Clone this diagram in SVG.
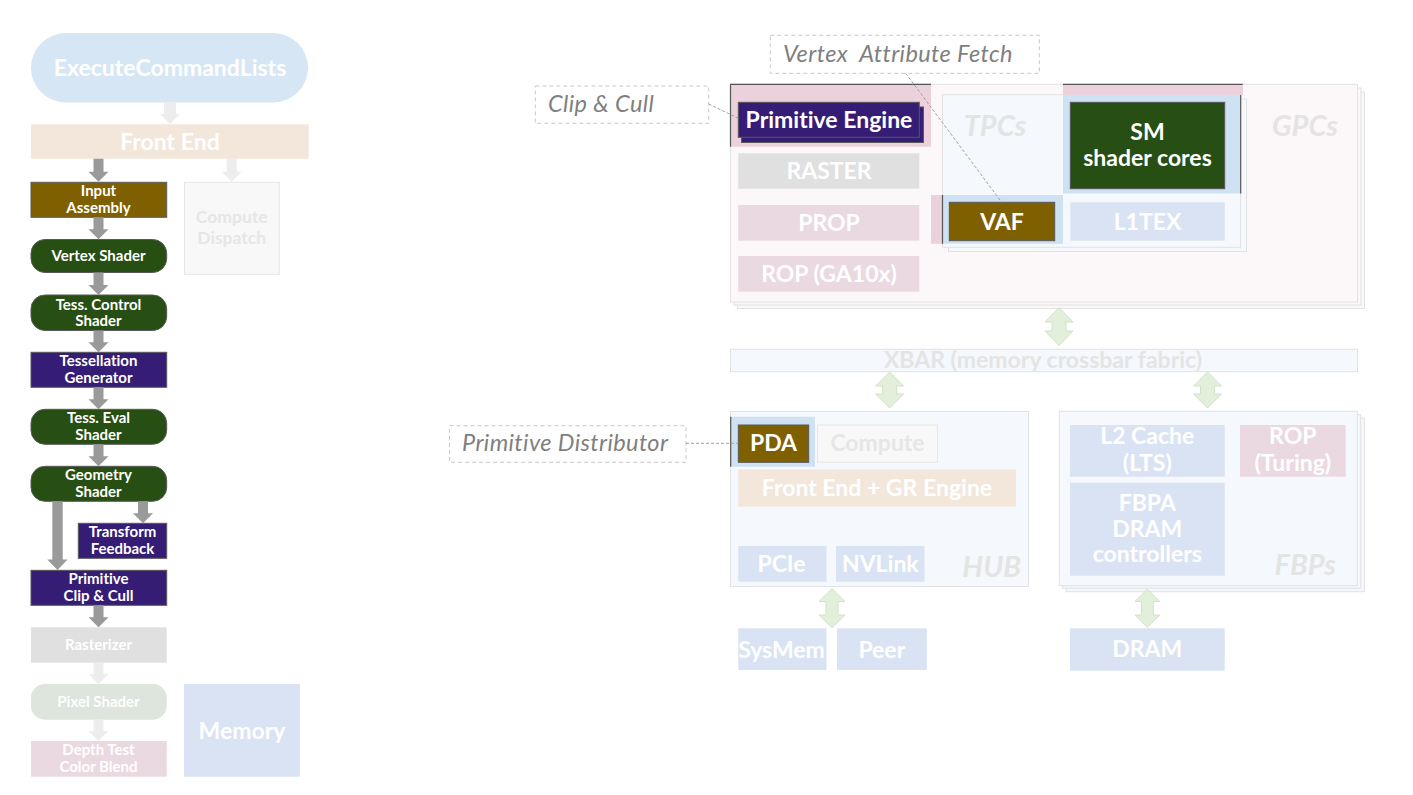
<svg xmlns="http://www.w3.org/2000/svg" width="1413" height="795" viewBox="0 0 1413 795">
<style>
text{font-family:Lato,"Open Sans","Liberation Sans",sans-serif;font-weight:bold;text-anchor:middle;fill:#fff;font-variant-ligatures:none}
.s14{font-size:15px}
.s22{font-size:23px}
.dk{stroke:#595959;stroke-width:1}
.green{fill:#274e13}
.purple{fill:#351c75}
.brown{fill:#7f6000}
.lblue{fill:#dae3f3}
.lpink{fill:#ead9e0}
.lgray{fill:#e0e0e0}
.peach{fill:#f3e6da}
.ghost{fill:#f8f8f8;stroke:#e6e6e6}
.ghosttxt{fill:#e6e6e6}
.big{font-size:29px;font-style:italic;fill:#e4e4e4}
.gpc{fill:#fcf7f8;stroke:#e2e2e2}
.pale{fill:#f5f8fc;stroke:#e2e2e2}
.hlpink{fill:#ead1dc}
.hlblue{fill:#cfe2f3}
.edge{fill:none;stroke:#555;stroke-width:1.2}
.callout{fill:#fff;stroke:#c8c8c8;stroke-dasharray:4 3}
.ctxt{font-size:23.5px;font-style:italic;font-weight:normal;fill:#7f7f7f;text-anchor:start;letter-spacing:0.4px}
.arrG{fill:#9a9a9a}
.arrL{fill:#ededed}
.arrD{fill:#e2efda;stroke:#d3e2c8}
.lead{fill:none;stroke:#a0a0a0;stroke-dasharray:3 2}
</style>

<!-- ===== Left pipeline ===== -->
<g id="execute-command-lists">
<rect x="31" y="33" width="277" height="69.5" rx="34.75" fill="#d6e6f4"/>
<text x="170" y="75.5" class="s22">ExecuteCommandLists</text>
</g>
<g id="front-end">
<rect x="31" y="124.3" width="277.7" height="34.4" class="peach"/>
<text x="170" y="149.5" class="s22">Front End</text>
</g>
<g id="input-assembly">
<rect x="31" y="182.3" width="135.7" height="35" class="brown dk"/>
<text x="98.5" y="196" class="s14">Input</text>
<text x="98.5" y="212.7" class="s14">Assembly</text>
</g>
<g id="compute-dispatch">
<rect x="184.5" y="182.3" width="94.8" height="92" class="ghost"/>
<text x="231.7" y="223.3" style="font-size:17.5px" class="ghosttxt">Compute</text>
<text x="231.7" y="244" style="font-size:17.5px" class="ghosttxt">Dispatch</text>
</g>
<g id="vertex-shader">
<rect x="31" y="239.5" width="135.7" height="33" rx="14" class="green dk"/>
<text x="98.5" y="261" class="s14">Vertex Shader</text>
</g>
<g id="tess-control-shader">
<rect x="31" y="295" width="135.7" height="35.5" rx="14" class="green dk"/>
<text x="98.5" y="309.5" class="s14">Tess. Control</text>
<text x="98.5" y="326" class="s14">Shader</text>
</g>
<g id="tessellation-generator">
<rect x="31" y="352.3" width="135.7" height="35" class="purple dk"/>
<text x="98.5" y="366.3" class="s14">Tessellation</text>
<text x="98.5" y="382.8" class="s14">Generator</text>
</g>
<g id="tess-eval-shader">
<rect x="31" y="409.3" width="135.7" height="35" rx="14" class="green dk"/>
<text x="98.5" y="423" class="s14">Tess. Eval</text>
<text x="98.5" y="439.5" class="s14">Shader</text>
</g>
<g id="geometry-shader">
<rect x="31" y="466.3" width="135.7" height="35" rx="14" class="green dk"/>
<text x="98.5" y="480" class="s14">Geometry</text>
<text x="98.5" y="496.7" class="s14">Shader</text>
</g>
<g id="transform-feedback">
<rect x="78.3" y="523.3" width="88.4" height="35" class="purple dk"/>
<text x="122.5" y="537.3" class="s14">Transform</text>
<text x="122.5" y="553.5" class="s14">Feedback</text>
</g>
<g id="primitive-clip-cull">
<rect x="31" y="570.3" width="135.7" height="35" class="purple dk"/>
<text x="98.5" y="584.2" class="s14">Primitive</text>
<text x="98.5" y="600.8" class="s14">Clip &amp; Cull</text>
</g>
<g id="rasterizer">
<rect x="31" y="627.3" width="135.7" height="35.4" class="lgray"/>
<text x="98.5" y="650.2" class="s14">Rasterizer</text>
</g>
<g id="pixel-shader">
<rect x="31" y="684" width="135.7" height="35.7" rx="14" fill="#dde5dc"/>
<text x="98.5" y="706.8" class="s14">Pixel Shader</text>
</g>
<g id="depth-test-color-blend">
<rect x="31" y="741" width="135.7" height="35.7" class="lpink"/>
<text x="98.5" y="755.2" class="s14">Depth Test</text>
<text x="98.5" y="771.8" class="s14">Color Blend</text>
</g>
<g id="memory">
<rect x="184" y="684" width="116" height="92.7" class="lblue"/>
<text x="242" y="738.5" class="s22">Memory</text>
</g>

<!-- ===== Right: GPCs ===== -->
<g id="gpcs">
<rect x="737.5" y="92" width="627" height="216.5" class="gpc"/>
<rect x="734" y="88" width="627" height="217" class="gpc"/>
<rect x="730.5" y="84.3" width="627" height="217.7" class="gpc"/>
<rect x="730.5" y="84.3" width="200.5" height="62.5" class="hlpink"/>
<polyline points="730.5,146.8 730.5,84.3 931,84.3" class="edge"/>
<text x="1305" y="136" class="big">GPCs</text>
</g>
<g id="tpcs">
<rect x="948.5" y="99" width="298" height="152.5" class="pale"/>
<rect x="942.5" y="94.7" width="298" height="152.6" class="pale"/>
<rect x="1063" y="84.3" width="180" height="10.6" class="hlpink"/>
<rect x="1063" y="94.9" width="178" height="98.6" class="hlblue"/>
<polyline points="1063,84.3 1242.7,84.3" class="edge"/>
<polyline points="1240.7,94.9 1240.7,193.5" class="edge"/>
<rect x="931" y="195" width="11.5" height="48.8" class="hlpink"/>
<rect x="942.5" y="195" width="120.5" height="48.8" class="hlblue"/>
<polyline points="942.5,195 942.5,243.8" class="edge"/>
<text x="995" y="136" class="big">TPCs</text>
</g>
<g id="primitive-engine">
<rect x="741.5" y="107" width="182" height="35.5" class="purple dk"/>
<rect x="738.3" y="102.3" width="181" height="35" class="purple dk"/>
<text x="829" y="127.5" class="s22">Primitive Engine</text>
</g>
<g id="raster">
<rect x="738.3" y="153.3" width="181" height="35.4" class="lgray"/>
<text x="829" y="179" class="s22">RASTER</text>
</g>
<g id="prop">
<rect x="738.3" y="205" width="181" height="35.7" class="lpink"/>
<text x="829" y="230.5" class="s22">PROP</text>
</g>
<g id="rop-ga10x">
<rect x="738.3" y="256" width="181" height="35.7" class="lpink"/>
<text x="829" y="281.5" class="s22">ROP (GA10x)</text>
</g>
<g id="sm">
<rect x="1070.3" y="102.3" width="154.4" height="86.4" class="green dk"/>
<text x="1147.5" y="140" class="s22">SM</text>
<text x="1147.5" y="166" class="s22">shader cores</text>
</g>
<g id="vaf">
<rect x="949.3" y="202.3" width="105.4" height="38.4" class="brown dk"/>
<text x="1002" y="229.5" class="s22">VAF</text>
</g>
<g id="l1tex">
<rect x="1070.3" y="202.3" width="154.4" height="38.4" class="lblue"/>
<text x="1147.5" y="229.5" class="s22">L1TEX</text>
</g>

<!-- ===== XBAR ===== -->
<g id="xbar">
<rect x="730.5" y="349.3" width="627" height="22.4" class="pale"/>
<text x="1043" y="367.5" class="s22" style="fill:#e4e4e4">XBAR (memory crossbar fabric)</text>
</g>

<!-- ===== HUB ===== -->
<g id="hub">
<rect x="730.5" y="411.5" width="298" height="175" class="pale"/>
<rect x="730.5" y="416.8" width="84.5" height="50" class="hlblue"/>
<polyline points="730.7,416.8 730.7,466.8" class="edge"/>
<text x="1021" y="577" class="big" style="text-anchor:end">HUB</text>
</g>
<g id="pda">
<rect x="738.3" y="425" width="70.4" height="37.3" class="brown dk"/>
<text x="773.5" y="451" class="s22">PDA</text>
</g>
<g id="compute">
<rect x="817.5" y="425" width="120" height="37.3" class="ghost"/>
<text x="877.5" y="451" class="s22 ghosttxt">Compute</text>
</g>
<g id="front-end-gr-engine">
<rect x="738.3" y="469.3" width="277.7" height="37.4" class="peach"/>
<text x="877" y="495.5" class="s22">Front End + GR Engine</text>
</g>
<g id="pcie">
<rect x="738.3" y="546" width="88.2" height="35.7" class="lblue"/>
<text x="781.5" y="571.5" class="s22">PCIe</text>
</g>
<g id="nvlink">
<rect x="836" y="546" width="88.5" height="35.7" class="lblue"/>
<text x="880.3" y="571.5" class="s22">NVLink</text>
</g>
<g id="sysmem">
<rect x="738.3" y="628.3" width="88.2" height="41.7" class="lblue"/>
<text x="781.5" y="658" class="s22">SysMem</text>
</g>
<g id="peer">
<rect x="837" y="628.3" width="89.8" height="41.7" class="lblue"/>
<text x="881.8" y="658" class="s22">Peer</text>
</g>

<!-- ===== FBPs ===== -->
<g id="fbps">
<rect x="1066" y="418" width="298.3" height="173.7" class="pale"/>
<rect x="1062.7" y="414.7" width="298" height="173.6" class="pale"/>
<rect x="1059.3" y="411.3" width="298" height="174.4" class="pale"/>
<text x="1336" y="575" class="big" style="text-anchor:end">FBPs</text>
</g>
<g id="l2-cache">
<rect x="1070" y="425" width="154.7" height="51.7" class="lblue"/>
<text x="1147.3" y="444" class="s22">L2 Cache</text>
<text x="1147.3" y="470.5" class="s22">(LTS)</text>
</g>
<g id="rop-turing">
<rect x="1240" y="425" width="105.7" height="51.7" class="lpink"/>
<text x="1292.8" y="444" class="s22">ROP</text>
<text x="1292.8" y="470.5" class="s22">(Turing)</text>
</g>
<g id="fbpa">
<rect x="1070" y="482.7" width="154.7" height="93" class="lblue"/>
<text x="1147.3" y="510.5" class="s22">FBPA</text>
<text x="1147.3" y="536.5" class="s22">DRAM</text>
<text x="1147.3" y="562" class="s22">controllers</text>
</g>
<g id="dram">
<rect x="1070" y="628.3" width="154.7" height="42.4" class="lblue"/>
<text x="1147.3" y="657" class="s22">DRAM</text>
</g>

<!-- ===== Callouts ===== -->
<g id="callout-vaf">
<rect x="770.3" y="35.3" width="269" height="38" class="callout"/>
<text x="783" y="62" class="ctxt" xml:space="preserve">Vertex  Attribute Fetch</text>
</g>
<g id="callout-clip-cull">
<rect x="535.3" y="86" width="173.4" height="37.3" class="callout"/>
<text x="548" y="112" class="ctxt">Clip &amp; Cull</text>
</g>
<g id="callout-primitive-distributor">
<rect x="449.5" y="425.7" width="236.5" height="36.6" class="callout"/>
<text x="462" y="451" class="ctxt">Primitive Distributor</text>
</g>

<!-- ===== Connectors ===== -->
<g id="connectors">
<!-- left pipeline light arrows -->
<polygon class="arrL" points="164,102.5 176,102.5 176,114 180,114 170,124 160,114 164,114"/>
<polygon class="arrL" points="226.7,158.7 236.7,158.7 236.7,171.7 241.7,171.7 231.7,181.7 221.7,171.7 226.7,171.7"/>
<polygon class="arrL" points="93.5,662.7 103.5,662.7 103.5,674 108.5,674 98.5,684 88.5,674 93.5,674"/>
<polygon class="arrL" points="93.5,719.7 103.5,719.7 103.5,731 108.5,731 98.5,741 88.5,731 93.5,731"/>
<!-- left pipeline gray arrows -->
<polygon class="arrG" points="93.5,158.7 103.5,158.7 103.5,171.7 108.5,171.7 98.5,181.7 88.5,171.7 93.5,171.7"/>
<polygon class="arrG" points="93.5,217.3 103.5,217.3 103.5,229.3 108.5,229.3 98.5,239.3 88.5,229.3 93.5,229.3"/>
<polygon class="arrG" points="93.5,272.5 103.5,272.5 103.5,285 108.5,285 98.5,295 88.5,285 93.5,285"/>
<polygon class="arrG" points="93.5,330.5 103.5,330.5 103.5,342.3 108.5,342.3 98.5,352.3 88.5,342.3 93.5,342.3"/>
<polygon class="arrG" points="93.5,387.3 103.5,387.3 103.5,399.3 108.5,399.3 98.5,409.3 88.5,399.3 93.5,399.3"/>
<polygon class="arrG" points="93.5,444.3 103.5,444.3 103.5,456.3 108.5,456.3 98.5,466.3 88.5,456.3 93.5,456.3"/>
<polygon class="arrG" points="138,501.3 148,501.3 148,513.3 153,513.3 143,523.3 133,513.3 138,513.3"/>
<polygon class="arrG" points="52.3,501.3 62.7,501.3 62.7,559.5 67.5,559.5 57.5,570 47.3,559.5 52.3,559.5"/>
<polygon class="arrG" points="93.5,605.3 103.5,605.3 103.5,617.3 108.5,617.3 98.5,627.3 88.5,617.3 93.5,617.3"/>
<!-- double arrows -->
<polygon class="arrD" points="1059,307.5 1073,322 1066,322 1066,331 1073,331 1059,345.5 1045,331 1052,331 1052,322 1045,322"/>
<polygon class="arrD" points="889.6,372 903.6,386 896.6,386 896.6,394 903.6,394 889.6,408 875.6,394 882.6,394 882.6,386 875.6,386"/>
<polygon class="arrD" points="1207.5,372 1221.5,386 1214.5,386 1214.5,394 1221.5,394 1207.5,408 1193.5,394 1200.5,394 1200.5,386 1193.5,386"/>
<polygon class="arrD" points="832,588.7 845,601.5 838,601.5 838,615 845,615 832,627.7 819,615 826,615 826,601.5 819,601.5"/>
<polygon class="arrD" points="1147.3,589.3 1159.8,601.5 1153.3,601.5 1153.3,615 1159.8,615 1147.3,627.3 1134.8,615 1141.3,615 1141.3,601.5 1134.8,601.5"/>
<!-- callout leaders -->
<line x1="905.7" y1="73.3" x2="1001.7" y2="202.3" class="lead"/>
<line x1="708.7" y1="104" x2="738.3" y2="118.3" class="lead"/>
<line x1="686" y1="443.3" x2="738.3" y2="443.3" class="lead"/>
</g>
</svg>
